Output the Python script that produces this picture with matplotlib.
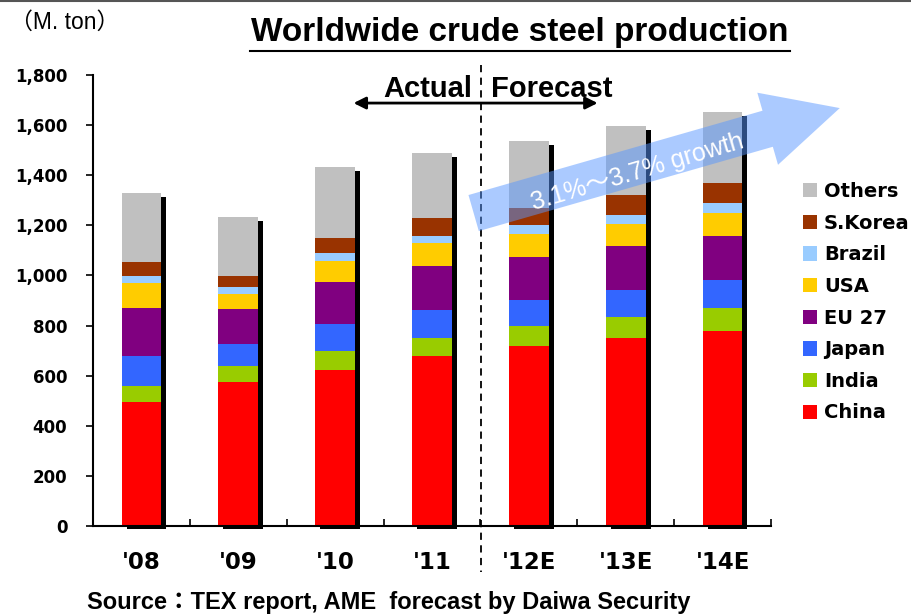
#Worldwide crude steel production, stacked bars by country with drop shadows
import numpy as np
import matplotlib
matplotlib.use('Agg')
import matplotlib.pyplot as plt
from matplotlib import font_manager as fm
from matplotlib.lines import Line2D

#data (M. ton)
years = ["'08", "'09", "'10", "'11", "'12E", "'13E", "'14E"]
china = [495, 575, 623, 679, 718, 750, 778]
india = [64, 64, 76, 72, 80, 84, 92]
japan = [120, 87, 108, 112, 104, 108, 112]
eu27 = [192, 140, 168, 176, 172, 175, 175]
usa = [98, 60, 84, 90, 91, 89, 92]
brazil = [29, 28, 32, 29, 36, 37, 42]
korea = [56, 44, 60, 72, 68, 78, 78]
others = [276, 235, 283, 259, 268, 275, 283]

series = ['China', 'India', 'Japan', 'EU 27', 'USA', 'Brazil', 'S.Korea', 'Others']
values = [china, india, japan, eu27, usa, brazil, korea, others]
colors = ['#FF0000', '#99CC00', '#3366FF', '#800080', '#FFCC00', '#99CCFF', '#993300', '#C0C0C0']

#pick a narrow font if one is installed
names = set(f.name for f in fm.fontManager.ttflist)
narrow = 'Liberation Sans Narrow' if 'Liberation Sans Narrow' in names else 'Liberation Sans'
cjk = 'Noto Sans CJK JP'

fig = plt.figure(figsize=(9.11, 6.16), dpi=100)
ax = fig.add_axes([93/911, 90/616, (771-93)/911, (526-75)/616])

x = np.arange(len(years))
w = 0.41
totals = np.sum(np.array(values), axis=0)

#shadow bars
ax.bar(x + 0.052, totals - 6, width=w, bottom=-10, color='black', zorder=1, clip_on=False)

bottom = np.zeros(len(years))
for name, vals, c in zip(series, values, colors):
    ax.bar(x, vals, width=w, bottom=bottom, color=c, label=name, zorder=2)
    bottom += np.array(vals)

ax.set_xlim(-0.5, 6.5)
ax.set_ylim(0, 1800)
ax.set_yticks(np.arange(0, 1801, 200))
ax.set_yticklabels(['{:,}'.format(v) for v in range(0, 1801, 200)],
                   fontsize=12, fontweight='bold', family='DejaVu Sans')
ax.set_xticks(x)
ax.set_xticklabels(years, fontsize=16.5, fontweight='bold', family='DejaVu Sans')
ax.set_xticks(np.arange(0.5, 7, 1), minor=True)
ax.tick_params(axis='x', which='major', length=0, pad=18)
ax.tick_params(axis='x', which='minor', direction='in', length=5, width=1.2)
ax.tick_params(axis='y', direction='out', length=5, width=1.2, pad=13.5)
ax.spines['top'].set_visible(False)
ax.spines['right'].set_visible(False)
ax.spines['left'].set_linewidth(1.5)
ax.spines['bottom'].set_linewidth(1.5)

#legend, Others on top
h, l = ax.get_legend_handles_labels()
leg = ax.legend(h[::-1], l[::-1], loc='upper left', bbox_to_anchor=(1.035, 0.78),
                frameon=False, prop={'family': 'DejaVu Sans', 'weight': 'bold', 'size': 14},
                handlelength=0.75, handleheight=0.75, handletextpad=0.35, labelspacing=0.65,
                borderaxespad=0)

#actual / forecast split
ax.plot([3.51, 3.51], [1840, -185], color='black', lw=1.3, ls=(0, (4, 3)), clip_on=False, zorder=5)
ax.annotate('', xy=(2.19, 1688), xytext=(4.71, 1688),
            arrowprops=dict(arrowstyle='<|-|>', color='black', lw=2, mutation_scale=18,
                            shrinkA=0, shrinkB=0))
ax.text(3.42, 1745, 'Actual', ha='right', va='center', fontsize=21, fontweight='bold', family=narrow)
ax.text(3.61, 1745, 'Forecast', ha='left', va='center', fontsize=21, fontweight='bold', family=narrow)

#growth arrow
ax.annotate('', xy=(7.21, 1668), xytext=(3.43, 1249), annotation_clip=False,
            arrowprops=dict(arrowstyle='simple,head_length=2,head_width=2,tail_width=1',
                            color='#5897FF', alpha=0.5, lw=0, mutation_scale=27,
                            shrinkA=0, shrinkB=0), zorder=6)
ax.text(5.12, 1412, '3.1%～3.7% growth', rotation=16.5, rotation_mode='anchor',
        ha='center', va='center', color='white', fontsize=18,
        family=['Liberation Sans', cjk], zorder=7)

#titles and notes
fig.text(520/911, 1 - 33/616, 'Worldwide crude steel production', ha='center', va='center',
         fontsize=24, fontweight='bold', family=narrow)
fig.add_artist(Line2D([250/911, 790/911], [1 - 51/616, 1 - 51/616], color='black', lw=1.5))
fig.text(10/911, 1 - 22/616, '（M. ton）', ha='left', va='center', fontsize=16.5,
         family=[narrow, cjk])
fig.text(87/911, 1 - 603/616, 'Source：TEX report, AME  forecast by Daiwa Security', ha='left',
         va='center', fontsize=17, fontweight='bold', family=[narrow, cjk])
fig.add_artist(Line2D([0, 1], [0.999, 0.999], color='#555555', lw=1.5))

fig.savefig('out.png', dpi=100)
